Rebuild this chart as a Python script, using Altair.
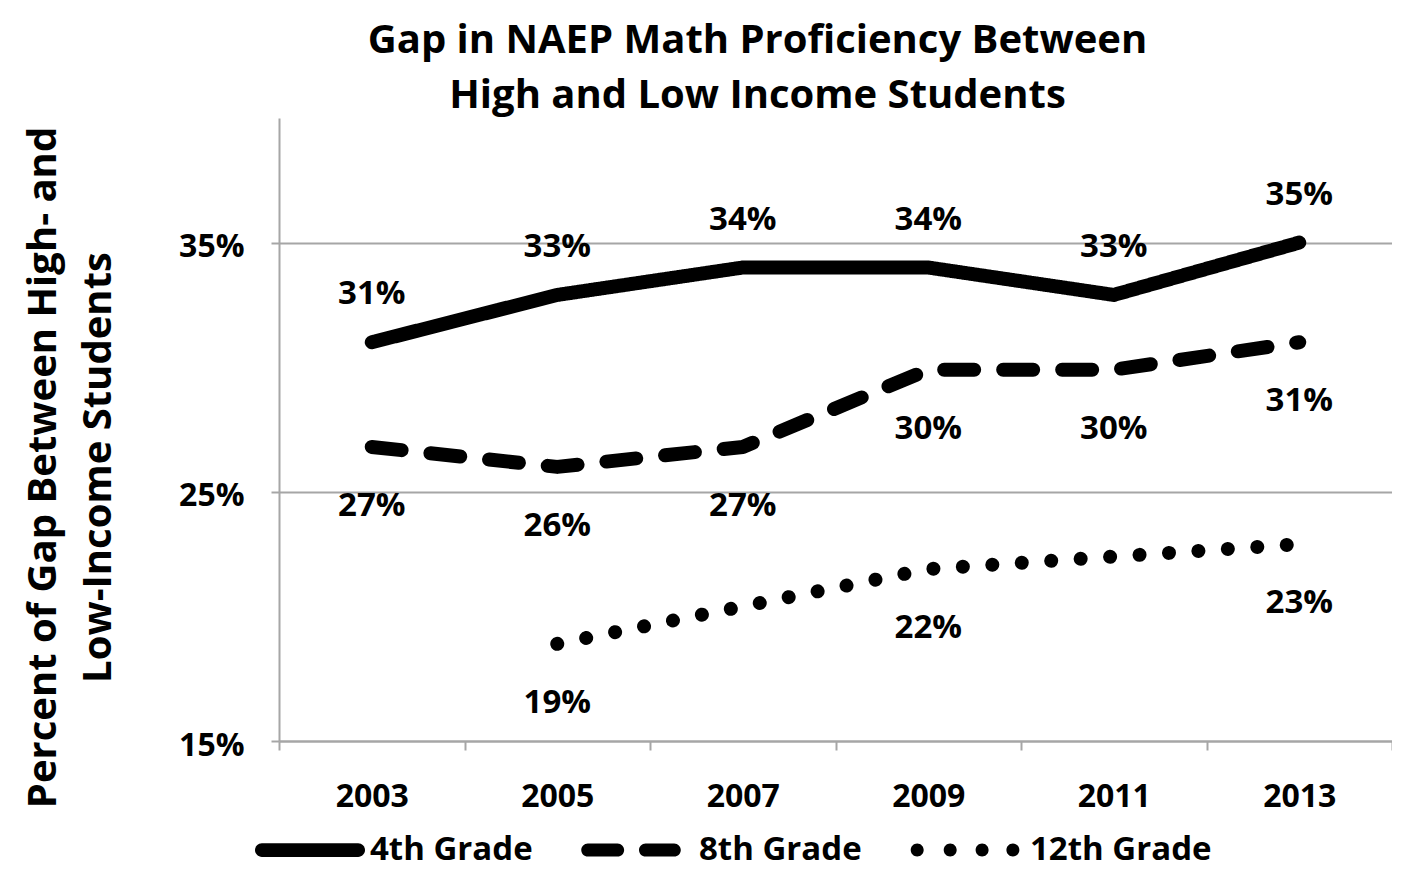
import altair as alt
import pandas as pd

years = ["2003", "2005", "2007", "2009", "2011", "2013"]
grades = ["4th Grade", "8th Grade", "12th Grade"]
grade4 = [31.0, 32.9, 34.0, 34.0, 32.9, 35.0]
grade8 = [26.8, 26.0, 26.8, 29.9, 29.9, 31.0]
grade12 = [None, 18.9, 20.4, 21.9, 22.4, 22.9]
labels4 = ["31%", "33%", "34%", "34%", "33%", "35%"]
labels8 = ["27%", "26%", "27%", "30%", "30%", "31%"]
labels12 = [None, "19%", None, "22%", None, "23%"]
dashes = [[1, 0], [30, 29], [0.01, 29.5]]

FONT = "Open Sans"

rows = []
for g, vals, labs in zip(grades, [grade4, grade8, grade12], [labels4, labels8, labels12]):
    for y, v, l in zip(years, vals, labs):
        if v is not None:
            rows.append({"year": y, "grade": g, "value": v, "label": l})
df = pd.DataFrame(rows)

def capsule(x0, x1, h):
    a = x0 + h
    b = x1 - h
    return (f"M{a},{-h}L{b},{-h}A{h},{h},0,0,1,{b},{h}"
            f"L{a},{h}A{h},{h},0,0,1,{a},{-h}Z")

def dot(cx, r):
    return (f"M{cx - r},0A{r},{r},0,1,0,{cx + r},0"
            f"A{r},{r},0,1,0,{cx - r},0Z")

path_solid = capsule(-1.0, 1.0, 0.125)
path_dash = capsule(-1.05, -0.27, 0.12) + capsule(0.0, 0.76, 0.12)
path_dot = "".join(dot(c, 0.118) for c in [-0.96, -0.36, 0.22, 0.78])

W, H = 1113, 623

x_enc = alt.X(
    "year:N",
    sort=years,
    bandPosition=0.5,
    scale=alt.Scale(type="band", paddingInner=0, paddingOuter=0),
    axis=alt.Axis(
        title=None, labelAngle=0, tickBand="extent", grid=False,
        domainColor="#A6A6A6", domainWidth=2, tickColor="#A6A6A6",
        tickWidth=2, tickSize=9, labelFont=FONT, labelFontSize=32,
        labelFontWeight="bold", labelColor="black", labelPadding=31,
    ),
)
y_enc = alt.Y(
    "value:Q",
    scale=alt.Scale(domain=[15, 40], nice=False, zero=False),
    axis=alt.Axis(
        values=[15, 25, 35], labelExpr="datum.value + '%'",
        title=["Percent of Gap Between High- and", "Low-Income Students"],
        titleFont=FONT, titleFontSize=40, titleFontWeight="bold",
        titleColor="black", titleAngle=-90, titleAlign="center",
        titleBaseline="top", titleX=-256, titleY=349, titleLineHeight=55,
        grid=True, gridColor="#A6A6A6", gridWidth=2,
        domainColor="#A6A6A6", domainWidth=2, tickColor="#A6A6A6",
        tickWidth=2, tickSize=8, labelFont=FONT, labelFontSize=32,
        labelFontWeight="bold", labelColor="black", labelPadding=27,
        labelOffset=4,
    ),
)

base = alt.Chart(df)

line_layers = []
for g, d in zip(grades, dashes):
    line_layers.append(
        base.transform_filter(alt.datum.grade == g).mark_line(
            color="black", strokeWidth=14, strokeCap="round",
            strokeJoin="round", strokeDash=d,
        ).encode(x=x_enc, y=y_enc)
    )

legend_pts = base.mark_point(filled=True, size=0, color="black").encode(
    x=x_enc,
    y=y_enc,
    shape=alt.Shape(
        "grade:N",
        scale=alt.Scale(domain=grades, range=[path_solid, path_dash, path_dot]),
        legend=alt.Legend(
            orient="none", legendX=-24, legendY=677, direction="horizontal",
            title=None, symbolSize=12100, symbolOpacity=1,
            symbolFillColor="black", symbolStrokeWidth=0,
            labelFont=FONT, labelFontSize=33, labelFontWeight="bold",
            labelColor="black", labelOffset=5, columnPadding=48,
            padding=0, labelLimit=400,
        ),
    ),
)

text_style = dict(font=FONT, fontSize=33, fontWeight="bold", color="black",
                  baseline="middle", align="center")

t4 = base.transform_filter(alt.datum.grade == "4th Grade").mark_text(
    dy=-48, **text_style
).encode(x=x_enc, y=y_enc, text="label:N")

t_low = base.transform_filter(
    (alt.datum.grade != "4th Grade") & alt.expr.isValid(alt.datum.label)
).mark_text(dy=59, **text_style).encode(x=x_enc, y=y_enc, text="label:N")

chart = alt.layer(*line_layers, legend_pts, t4, t_low).properties(
    width=W,
    height=H,
    autosize=alt.AutoSizeParams(type="none"),
    padding={"left": 271, "top": 110, "right": 0, "bottom": 142},
    title=alt.TitleParams(
        text=["Gap in NAEP Math Proficiency Between", "High and Low Income Students"],
        font=FONT, fontSize=40, fontWeight="bold", color="black",
        anchor="middle", frame="group", dx=-78, offset=2, lineHeight=55,
    ),
).configure_view(stroke=None)

chart.save("out.html", embed_options={"renderer": "svg", "actions": False})
